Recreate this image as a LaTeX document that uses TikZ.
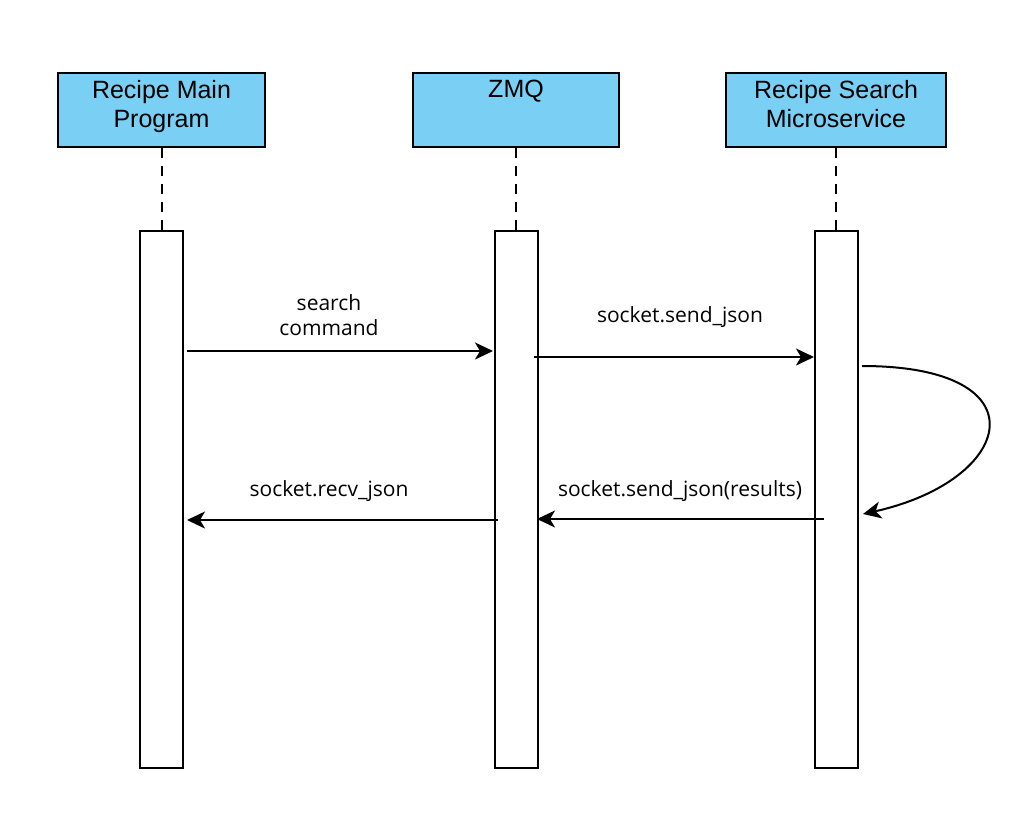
\documentclass[tikz,border=0pt]{standalone}
\usepackage{fontspec}
\setmainfont{Open Sans}
\newfontfamily\headfont{Liberation Sans}
\usetikzlibrary{arrows.meta}
\definecolor{headblue}{HTML}{7ACFF5}
\begin{document}
\begin{tikzpicture}[x=1pt, y=-1pt, line width=2pt,
    head/.style={draw, fill=headblue, minimum height=74pt, inner sep=0pt},
    headtext/.style={anchor=north, align=center, inner sep=0pt, font=\headfont\fontsize{25}{29}\selectfont},
    bar/.style={draw, fill=white, minimum width=43pt, minimum height=537pt, inner sep=0pt},
    msg/.style={align=center, inner sep=0pt, font=\fontsize{21}{25}\selectfont},
    call/.style={-{Stealth[length=18pt, width=17pt, inset=5pt]}}]
    \useasboundingbox (0,0) rectangle (1027,815);
    % lifelines: header, dashed line, activation bar
    \foreach \name/\x/\w/\txt in {main/161.5/207/{Recipe Main\\Program},
        zmq/516/206/{ZMQ}, search/836/220/{Recipe Search\\Microservice}}
    {
        \node[head, minimum width=\w pt] (\name head) at (\x,110) {};
        \node[headtext] (\name text) at (\x,79) {\txt};
        \node[bar] (\name bar) at (\x,499.5) {};
        \draw[dash pattern=on 10pt off 8pt] (\name head.south) -- (\name bar.north);
    }
    % message end points
    \coordinate (m1a) at (187,351);  \coordinate (m1b) at (493,351);
    \coordinate (m2a) at (534,357);  \coordinate (m2b) at (814,357);
    \coordinate (m3a) at (862,366);  \coordinate (m3b) at (863,514);
    \coordinate (m4a) at (824,519);  \coordinate (m4b) at (537,519);
    \coordinate (m5a) at (498,520);  \coordinate (m5b) at (187,520);
    \draw[call] (m1a) -- (m1b);
    \draw[call] (m2a) -- (m2b);
    \draw[call] (m3a) .. controls (1045,366) and (1015,480) .. (m3b);
    \draw[call] (m4a) -- (m4b);
    \draw[call] (m5a) -- (m5b);
    \node[msg] (l1) at (329,315.5) {search\\command};
    \node[msg] (l2) at (680,317) {socket.send\_json};
    \node[msg] (l4) at (680,491) {socket.send\_json(results)};
    \node[msg] (l5) at (329,491) {socket.recv\_json};
\end{tikzpicture}
\end{document}
